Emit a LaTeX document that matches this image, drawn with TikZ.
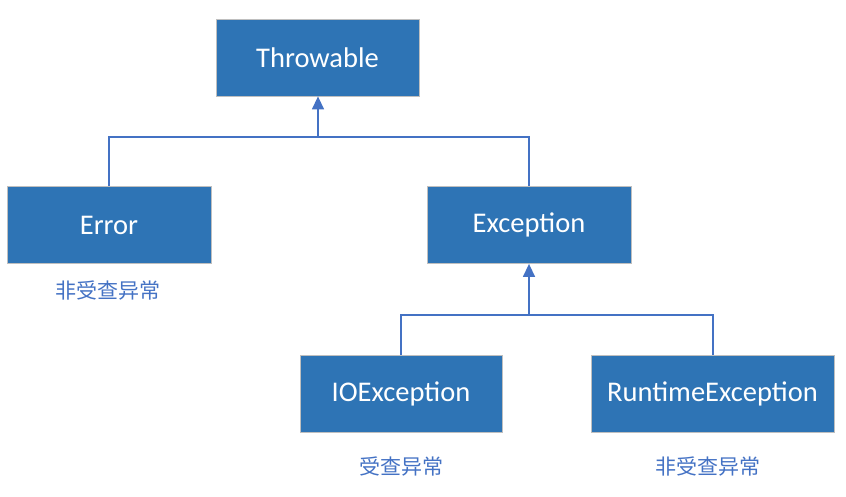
\documentclass[tikz,border=0pt]{standalone}
\usepackage{fontspec}
\setmainfont{Carlito}
\newfontfamily\cjk{Noto Sans CJK SC}
\usetikzlibrary{arrows.meta}
\definecolor{boxblue}{HTML}{2E74B5}
\definecolor{lineblue}{HTML}{4472C4}
\definecolor{boxedge}{HTML}{BFBFBF}
\begin{document}
\begin{tikzpicture}[x=1pt,y=-1pt,
  cls/.style={draw=boxedge,line width=0.8pt,fill=boxblue,text=white,
    minimum height=77pt,inner sep=0pt,font=\fontsize{28.5}{30}\selectfont},
  lbl/.style={text=lineblue,font=\cjk\fontsize{21}{24}\selectfont,inner sep=0pt},
  conn/.style={draw=lineblue,line width=1.4pt},
  inh/.style={conn,-{Triangle[width=12pt,length=13pt]}}]
\useasboundingbox (0,0) rectangle (846,497);
\node[cls,minimum width=203pt] (thr) at (317.5,57.5) {Throwable};
\node[cls,minimum width=204pt] (err) at (109,225) {Error};
\node[cls,minimum width=204pt] (exc) at (529,225) {Exception};
\node[cls,minimum width=202pt] (ioe) at (401,393.5) {IOException};
\node[cls,minimum width=243pt] (rte) at (712.5,393.5) {RuntimeException};
\node[lbl] (l1) at (108,291) {非受查异常};
\node[lbl] (l2) at (401,467) {受查异常};
\node[lbl] (l3) at (708,467) {非受查异常};
\coordinate (j1) at (318,137);
\coordinate (j2) at (529,315);
\draw[conn] (err.north) |- (j1) -| (exc.north);
\draw[inh] (j1) -- (thr.south -| j1);
\draw[conn] (ioe.north) |- (j2) -| (rte.north -| 713,0);
\draw[inh] (j2) -- (exc.south);
\end{tikzpicture}
\end{document}
